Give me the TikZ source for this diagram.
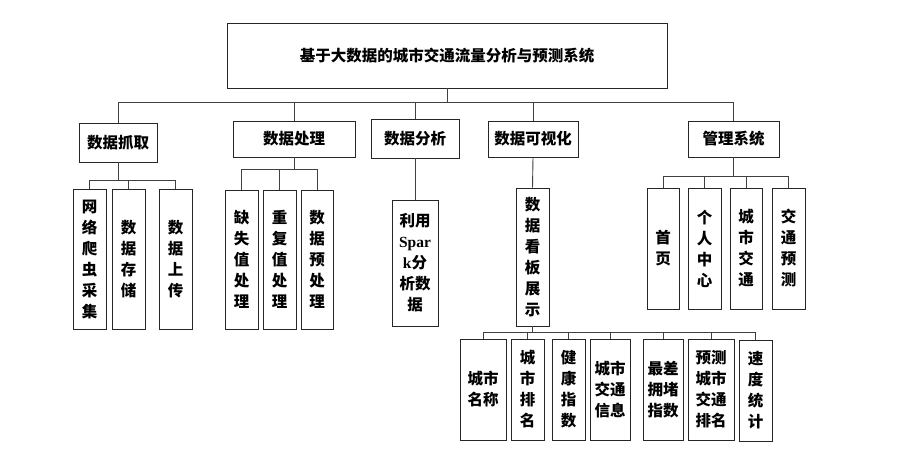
\documentclass[tikz,border=0pt]{standalone}
\usepackage{fontspec}
\newfontfamily\cjk{Noto Sans CJK SC}
\newfontfamily\lat{Liberation Serif}
\begin{document}
\begin{tikzpicture}[x=1pt,y=-1pt,
  box/.style={draw=black!85,line width=0.9pt,fill=white,inner sep=0pt,align=center,
    font=\cjk\bfseries\fontsize{15.5}{21}\selectfont},
  conn/.style={draw=black!75,line width=0.9pt}]
\useasboundingbox[fill=white] (0,0) rectangle (916,451);
% helper: node by corners
\newcommand{\bx}[6]{\node[box,minimum width={#3-#2},minimum height={#5-#4}] (#1) at ({(#2+#3)/2},{(#4+#5)/2}) {#6};}
% title
\bx{title}{227}{667}{23}{88}{基于大数据的城市交通流量分析与预测系统}
% level 1
\bx{a}{79}{157}{123}{162}{数据抓取}
\bx{b}{233}{355}{121}{157}{数据处理}
\bx{c}{371}{459}{119}{158}{数据分析}
\bx{d}{488}{578}{121}{157}{数据可视化}
\bx{e}{688}{779}{121}{157}{管理系统}
% level 2 under a
\bx{a1}{73}{106}{189}{329}{网\\络\\爬\\虫\\采\\集}
\bx{a2}{112}{145}{189}{329}{数\\据\\存\\储}
\bx{a3}{159}{192}{189}{329}{数\\据\\上\\传}
% under b
\bx{b1}{225}{258}{190}{329}{缺\\失\\值\\处\\理}
\bx{b2}{263}{296}{190}{329}{重\\复\\值\\处\\理}
\bx{b3}{301}{333}{190}{329}{数\\据\\预\\处\\理}
% under c
\bx{c1}{392}{438}{200}{326}{利用\\{\lat\bfseries Spar}\\{\lat\bfseries k}分\\析数\\据}
% under d
\bx{d1}{516}{549}{188}{326}{数\\据\\看\\板\\展\\示}
\bx{f1}{460}{506}{339}{440}{城市\\名称}
\bx{f2}{511}{544}{339}{440}{城\\市\\排\\名}
\bx{f3}{552}{585}{339}{440}{健\\康\\指\\数}
\bx{f4}{590}{630}{339}{440}{城市\\交通\\信息}
\bx{f5}{643}{683}{339}{440}{最差\\拥堵\\指数}
\bx{f6}{688}{734}{339}{440}{预测\\城市\\交通\\排名}
\bx{f7}{739}{772}{340}{441}{速\\度\\统\\计}
% under e
\bx{e1}{647}{679}{188}{309}{首\\页}
\bx{e2}{688}{721}{188}{309}{个\\人\\中\\心}
\bx{e3}{730}{762}{188}{309}{城\\市\\交\\通}
\bx{e4}{772}{805}{188}{309}{交\\通\\预\\测}
% junctions
\coordinate (j0) at (447,102);
\coordinate (ja) at (118,180);
\coordinate (jb) at (294,169);
\coordinate (jd) at (532.5,332);
\coordinate (je) at (733.5,176);
% connectors
\foreach \n in {a,b,c,d,e} \draw[conn] (title.south) -- (j0) -| (\n.north);
\foreach \n in {a1,a2,a3} \draw[conn] (a.south) -- (ja) -| (\n.north);
\foreach \n in {b1,b2,b3} \draw[conn] (b.south) -- (jb) -| (\n.north);
\draw[conn] (c.south) -- (c1.north);
\draw[conn] (d.south) -- (d1.north);
\foreach \n in {f1,f2,f3,f4,f5,f6,f7} \draw[conn] (d1.south) -- (jd) -| (\n.north);
\foreach \n in {e1,e2,e3,e4} \draw[conn] (e.south) -- (je) -| (\n.north);
\end{tikzpicture}
\end{document}
